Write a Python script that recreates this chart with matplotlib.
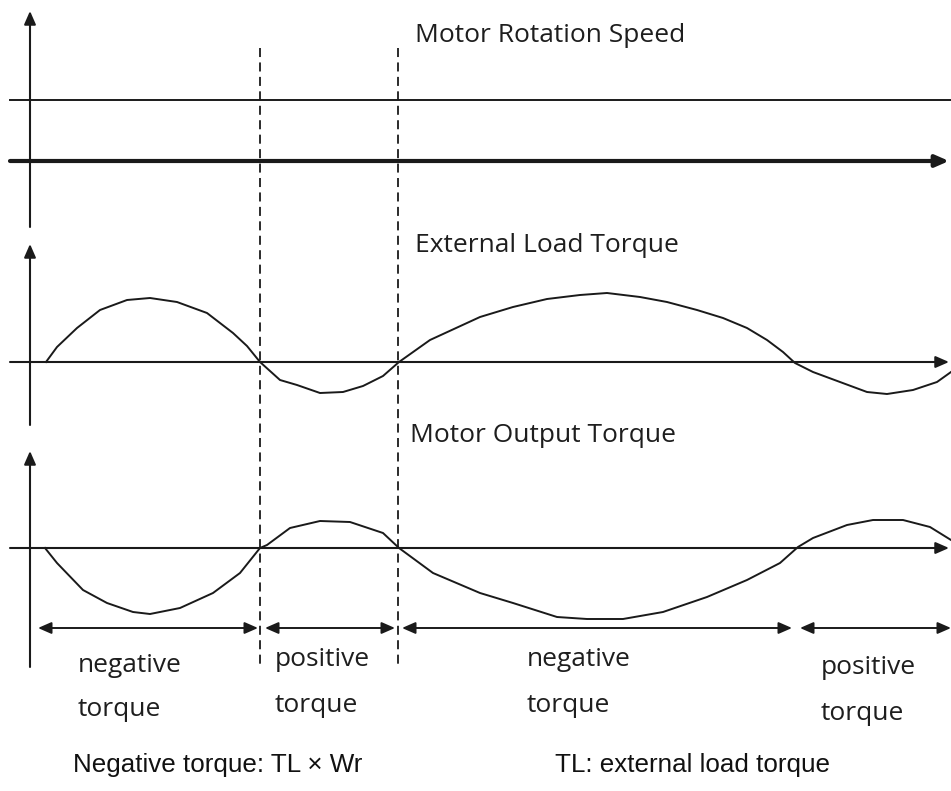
import matplotlib
matplotlib.use("Agg")
import matplotlib.pyplot as plt
from matplotlib import font_manager

# ---- data (pixel-space schematic) ----
# panel levels (baseline y of each panel's horizontal axis)
speed_levels = [100, 161]          # thin reference line, thick time axis
load_zero = 362
output_zero = 548
boundaries = [260, 398]            # dashed vertical lines (zero crossings)

load_x = [46, 57, 77, 100, 127, 150, 177, 207, 233, 247, 260, 280, 297, 320, 343,
          363, 383, 399, 430, 480, 513, 547, 580, 607, 640, 667, 697, 723, 747,
          767, 783, 795, 813, 840, 867, 887, 913, 937, 951]
load_y = [362, 347, 328, 310, 300, 298, 302, 313, 333, 346, 362, 380, 385, 393, 392,
          386, 376, 362, 340, 317, 307, 299, 295, 293, 297, 302, 310, 318, 328,
          340, 352, 363, 372, 382, 392, 394, 390, 382, 372]

output_x = [45, 57, 83, 107, 133, 150, 180, 213, 240, 260, 267, 290, 320, 350, 383,
            399, 433, 480, 513, 557, 587, 623, 663, 707, 747, 780, 798, 813, 847,
            873, 903, 930, 951]
output_y = [548, 563, 590, 603, 612, 614, 608, 593, 573, 548, 545, 528, 521, 522, 533,
            548, 573, 593, 603, 617, 619, 619, 612, 597, 580, 563, 547, 538, 525,
            520, 520, 527, 540]

span_starts = [38, 265, 402, 800]
span_ends = [258, 395, 792, 951]
span_labels = [("negative", "torque"), ("positive", "torque"),
               ("negative", "torque"), ("positive", "torque")]
span_label_x = [78, 275, 527, 821]
span_label_y = [665, 660, 660, 668]

panel_titles = ["Motor Rotation Speed", "External Load Torque", "Motor Output Torque"]
panel_title_x = [415, 415, 410]
panel_title_y = [36, 245, 436]

footer_texts = ["Negative torque: TL × Wr", "TL: external load torque"]
footer_x = [73, 555]
footer_y = 765

# ---- drawing ----
LC = "#1a1a1a"
TC = "#1e1e1e"
FS = 19
names = {f.name for f in font_manager.fontManager.ttflist}
if "Liberation Sans Narrow" in names:
    FOOT_FAMILY, FOOT_FS = "Liberation Sans Narrow", 22.8
else:
    FOOT_FAMILY, FOOT_FS = "Liberation Sans", 18.7

fig = plt.figure(figsize=(9.51, 7.91), dpi=100)
ax = fig.add_axes([0, 0, 1, 1])
ax.set_xlim(0, 951)
ax.set_ylim(791, 0)
ax.axis("off")

def arrow(x0, y0, x1, y1, lw=1.5, style="-|>"):
    ax.annotate("", xy=(x1, y1), xytext=(x0, y0),
                arrowprops=dict(arrowstyle=f"{style},head_length=0.8,head_width=0.35",
                                color=LC, lw=lw, shrinkA=0, shrinkB=0,
                                mutation_scale=10))

# vertical axes
arrow(30, 227, 30, 11)
arrow(30, 425, 30, 244)
arrow(30, 667, 30, 451)

# top panel
ax.plot([10, 951], [speed_levels[0]] * 2, color=LC, lw=1.4)
arrow(10, speed_levels[1], 949, speed_levels[1], lw=3.0)

# horizontal axes
arrow(10, load_zero, 949, load_zero, lw=1.5)
arrow(10, output_zero, 949, output_zero, lw=1.5)

# dashed boundaries
for bx in boundaries:
    ax.plot([bx, bx], [48, 667], color=LC, lw=1.3, ls=(0, (5, 3)))

# curves
ax.plot(load_x, load_y, color=LC, lw=1.4)
ax.plot(output_x, output_y, color=LC, lw=1.4)

# double arrows
for s, e in zip(span_starts, span_ends):
    arrow(s, 628, e, 628, lw=1.4, style="<|-|>")

# texts
for t, x, y in zip(panel_titles, panel_title_x, panel_title_y):
    ax.text(x, y, t, fontsize=FS, family="Open Sans", color=TC, ha="left", va="center")

for (a, b), x, y in zip(span_labels, span_label_x, span_label_y):
    ax.text(x, y, a, fontsize=FS, family="Open Sans", color=TC, ha="left", va="center")
    ax.text(x, y + 45, b, fontsize=FS, family="Open Sans", color=TC, ha="left", va="center")

for t, x in zip(footer_texts, footer_x):
    ax.text(x, footer_y, t, fontsize=FOOT_FS, family=FOOT_FAMILY, color="#111111",
            ha="left", va="center")

fig.savefig("out.png", dpi=100)
